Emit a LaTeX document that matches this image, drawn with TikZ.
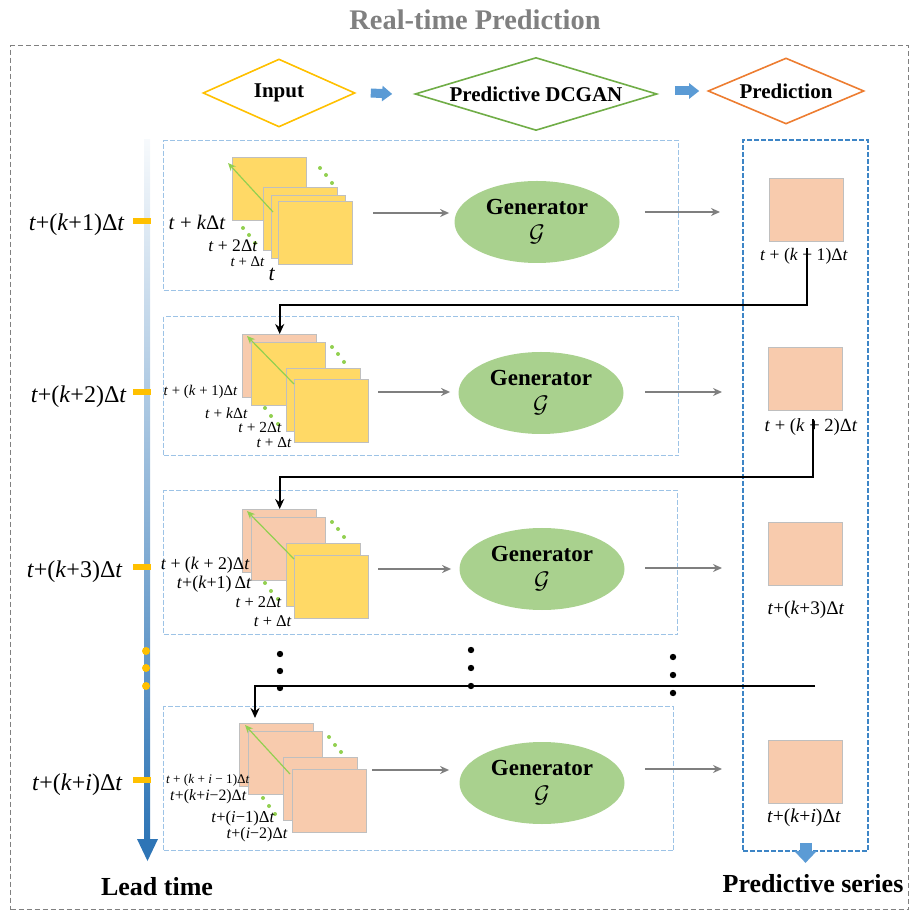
\documentclass[tikz,border=0pt]{standalone}
\usepackage{fontspec}
\setmainfont{Liberation Serif}
\usetikzlibrary{shapes.geometric,arrows.meta,calc}
\definecolor{imgY}{HTML}{FFD966}
\definecolor{imgP}{HTML}{F8CBAD}
\definecolor{frameG}{HTML}{BFBFBF}
\definecolor{genG}{HTML}{A9D18E}
\definecolor{panelB}{HTML}{9DC3E6}
\definecolor{colB}{HTML}{3D85C6}
\definecolor{arrB}{HTML}{5B9BD5}
\definecolor{axisB}{HTML}{2E75B6}
\definecolor{tickO}{HTML}{FFC000}
\definecolor{dotG}{HTML}{92D050}
\definecolor{greyA}{HTML}{7F7F7F}
\definecolor{titleG}{HTML}{808080}
\definecolor{dInput}{HTML}{FFC000}
\definecolor{dGAN}{HTML}{70AD47}
\definecolor{dPred}{HTML}{ED7D31}
\newcommand{\fsz}[1]{\fontsize{#1}{#1}\selectfont}
\newcommand{\iv}[1]{\textit{#1}}
\begin{document}
\begin{tikzpicture}[x=0.5pt,y=-0.5pt,
  fy/.style={draw=frameG, fill=imgY, line width=0.7pt, minimum width=37pt, minimum height=31.5pt, inner sep=0, anchor=north west},
  fp/.style={fy, fill=imgP},
  panel/.style={draw=panelB, dash pattern=on 2.5pt off 1pt, line width=0.7pt, anchor=north west, inner sep=0},
  gen/.style={ellipse, fill=genG, minimum width=82.5pt, minimum height=41pt, inner sep=0, align=center, font=\fontsize{11.5}{13.5}\selectfont\bfseries},
  garrow/.style={greyA, line width=0.8pt, -{Stealth[length=4.5pt,width=4pt]}},
  blk/.style={black, line width=1pt, -{Stealth[length=5pt,width=4.5pt]}},
  grn/.style={dotG, line width=0.6pt, -{Stealth[length=4pt,width=3.5pt]}},
  blockarrow/.style={arrB, line width=4.5pt, -{Triangle[length=5pt,width=7.5pt]}},
  dia/.style={diamond, line width=0.8pt, inner sep=0, font=\fontsize{10.5}{12}\selectfont\bfseries},
  lab/.style={inner sep=0, anchor=east},
  plab/.style={inner sep=0},
  axl/.style={inner sep=0, anchor=east, font=\fsz{12}},
  bigt/.style={inner sep=0, font=\fontsize{13}{15}\selectfont\bfseries}
]
\useasboundingbox (0,0) rectangle (914,913);
% outer frame and title
\node[draw=titleG, dash pattern=on 2.5pt off 1.5pt, line width=0.6pt, minimum width=449pt, minimum height=432pt, inner sep=0, anchor=north west] (outer) at (10,45) {};
\node[inner sep=0, text=titleG, font=\fontsize{14.2}{16}\selectfont\bfseries] (title) at (475,20) {Real-time Prediction};
% header diamonds
\node[dia, draw=dInput, minimum width=76pt, minimum height=34pt, aspect=2.2] (din) at (279,93) {Input};
\node[dia, draw=dGAN, minimum width=121pt, minimum height=36.5pt, aspect=3.3] (dgan) at (536,94) {Predictive DCGAN};
\node[dia, draw=dPred, minimum width=78pt, minimum height=33pt, aspect=2.36] (dpred) at (786,91) {Prediction};
\draw[blockarrow] ([xshift=7.5pt]din.east) -- ([xshift=-11pt]dgan.west);
\draw[blockarrow] ([xshift=8.5pt]dgan.east |- dpred.west) -- ([xshift=-4pt]dpred.west);
% time axis
\shade[top color=axisB!4!white, bottom color=axisB] (144,140) rectangle (150,842);
\fill[axisB] (137,839) -- (158,839) -- (147.5,861) -- cycle;
\foreach \yy in {221,392,567,780} \fill[tickO] (133,\yy-2.8) rectangle (151,\yy+2.8);
\foreach \yy in {651,668,686} \fill[tickO] (146,\yy) circle (2pt);
\node[axl] (a1) at (125,225) {\iv{t}+(\iv{k}+1)Δ\iv{t}};
\node[axl] (a2) at (127,397) {\iv{t}+(\iv{k}+2)Δ\iv{t}};
\node[axl] (a3) at (123,572) {\iv{t}+(\iv{k}+3)Δ\iv{t}};
\node[axl] (a4) at (123,785) {\iv{t}+(\iv{k}+\iv{i})Δ\iv{t}};
\node[bigt] (lead) at (157,887) {Lead time};
\node[bigt] (pser) at (813,884) {Predictive series};
% panels
\node[panel, minimum width=257.5pt, minimum height=75pt] (r1) at (163,140) {};
\node[panel, minimum width=257.5pt, minimum height=69.5pt] (r2) at (163,316) {};
\node[panel, minimum width=257pt, minimum height=72pt] (r3) at (163,490) {};
\node[panel, minimum width=255pt, minimum height=72pt] (r4) at (163,706) {};
\node[draw=colB, dash pattern=on 2.5pt off 1pt, line width=0.9pt, minimum width=62.5pt, minimum height=355.5pt, inner sep=0] (pc) at (805.5,495.5) {};
\draw[arrB, line width=6pt, -{Triangle[length=6pt,width=11pt]}] ([yshift=4.5pt]pc.south) -- ++(0,20);
% row 1 stack
\node[fy] (s1a) at (232,157) {};
\node[fy] (s1b) at (263,187) {};
\node[fy] (s1c) at (271,195) {};
\node[fy] (s1d) at (278,201) {};
\coordinate (ga1) at (273,212); \coordinate (gb1) at (228,163);
\draw[grn] (ga1) -- (gb1);
\foreach \px/\py in {320/168,326/175,332/183,243/228,249/235,255/243} \fill[dotG] (\px,\py) circle (1pt);
\node[lab, font=\fsz{10.3}] (l1a) at (226,222) {\iv{t} + \iv{k}Δ\iv{t}};
\node[lab, font=\fsz{8.8}] (l1b) at (258,246) {\iv{t} + 2Δ\iv{t}};
\node[lab, font=\fsz{7.4}] (l1c) at (265,262) {\iv{t} + Δ\iv{t}};
\node[plab, font=\fsz{11}] (l1d) at (272,274) {\iv{t}};
% row 2 stack
\node[fp] (s2a) at (242,334) {};
\node[fy] (s2b) at (251,342) {};
\node[fy] (s2c) at (286,368) {};
\node[fy] (s2d) at (294,379) {};
\coordinate (ga2) at (294,384); \coordinate (gb2) at (247,336);
\draw[grn] (ga2) -- (gb2);
\foreach \px/\py in {332/347,338/354,344/362,265/408,271/416,278/424} \fill[dotG] (\px,\py) circle (1pt);
\node[lab, font=\fsz{7.4}] (l2a) at (238,392) {\iv{t} + (\iv{k} + 1)Δ\iv{t}};
\node[lab, font=\fsz{7.7}] (l2b) at (248,413) {\iv{t} + \iv{k}Δ\iv{t}};
\node[lab, font=\fsz{7.7}] (l2c) at (282,427) {\iv{t} + 2Δ\iv{t}};
\node[lab, font=\fsz{7.6}] (l2d) at (292,443) {\iv{t} + Δ\iv{t}};
% row 3 stack
\node[fp] (s3a) at (242,509) {};
\node[fp] (s3b) at (251,517) {};
\node[fy] (s3c) at (286,543) {};
\node[fy] (s3d) at (294,555) {};
\coordinate (ga3) at (294,559); \coordinate (gb3) at (247,511);
\draw[grn] (ga3) -- (gb3);
\foreach \px/\py in {332/522,338/529,344/537,265/583,271/591,278/599} \fill[dotG] (\px,\py) circle (1pt);
\node[lab, font=\fsz{8.9}] (l3a) at (250,565) {\iv{t} + (\iv{k} + 2)Δ\iv{t}};
\node[lab, font=\fsz{9}] (l3b) at (252,584) {\iv{t}+(\iv{k}+1)\,Δ\iv{t}};
\node[lab, font=\fsz{8.2}] (l3c) at (282,602) {\iv{t} + 2Δ\iv{t}};
\node[lab, font=\fsz{8.2}] (l3d) at (292,621) {\iv{t} + Δ\iv{t}};
% row 4 stack
\node[fp] (s4a) at (239,723) {};
\node[fp] (s4b) at (248,731) {};
\node[fp] (s4c) at (283,757) {};
\node[fp] (s4d) at (292,769) {};
\coordinate (ga4) at (290,774); \coordinate (gb4) at (245,725);
\draw[grn] (ga4) -- (gb4);
\foreach \px/\py in {329/737,335/745,341/752,263/798,269/806,275/814} \fill[dotG] (\px,\py) circle (1pt);
\node[lab, font=\fsz{6.6}] (l4a) at (250,780) {\iv{t} + (\iv{k} + \iv{i} − 1)Δ\iv{t}};
\node[lab, font=\fsz{7.9}] (l4b) at (247,797) {\iv{t}+(\iv{k}+\iv{i}−2)Δ\iv{t}};
\node[lab, font=\fsz{8.3}] (l4c) at (275,819) {\iv{t}+(\iv{i}−1)Δ\iv{t}};
\node[lab, font=\fsz{8}] (l4d) at (288,835) {\iv{t}+(\iv{i}−2)Δ\iv{t}};
% generators
\node[gen] (g1) at (537,222) {Generator\\$\mathcal{G}$};
\node[gen] (g2) at (541,393) {Generator\\$\mathcal{G}$};
\node[gen] (g3) at (542,569) {Generator\\$\mathcal{G}$};
\node[gen] (g4) at (542,783) {Generator\\$\mathcal{G}$};
\coordinate (i1) at (373,213); \draw[garrow, shorten >=2.5pt] (i1) -- (i1 -| g1.west);
\coordinate (i2) at (378,392); \draw[garrow, shorten >=4pt] (i2) -- (i2 -| g2.west);
\coordinate (i3) at (378,569); \draw[garrow, shorten >=4pt] (i3) -- (i3 -| g3.west);
\coordinate (i4) at (372,770); \draw[garrow, shorten >=5pt] (i4) -- (i4 -| g4.west);
% predictions
\node[fp] (p1) at (769,178) {};
\node[fp] (p2) at (768,347) {};
\node[fp] (p3) at (768,522) {};
\node[fp] (p4) at (768,740) {};
\node[plab, font=\fsz{8.8}] (q1) at (804,256) {\iv{t} + (\iv{k} + 1)Δ\iv{t}};
\node[plab, font=\fsz{9.3}] (q2) at (811,427) {\iv{t} + (\iv{k} + 2)Δ\iv{t}};
\node[plab, font=\fsz{9.6}] (q3) at (806,610) {\iv{t}+(\iv{k}+3)Δ\iv{t}};
\node[plab, font=\fsz{9.8}] (q4) at (804,818) {\iv{t}+(\iv{k}+\iv{i})Δ\iv{t}};
\coordinate (o1) at (720,212); \draw[garrow, shorten <=12.5pt] (g1.east |- o1) -- (o1);
\coordinate (o2) at (722,392); \draw[garrow, shorten <=10.75pt] (g2.east |- o2) -- (o2);
\coordinate (o3) at (722,568); \draw[garrow, shorten <=10.25pt] (g3.east |- o3) -- (o3);
\coordinate (o4) at (722,769); \draw[garrow, shorten <=10.25pt] (g4.east |- o4) -- (o4);
% feedback connectors
\draw[blk] ([yshift=-3pt]p1.south) -- ++(0,57) -| (s2a.north);
\draw[blk] ([xshift=3.5pt,yshift=-4pt]p2.south) -- ++(0,58) -| (s3a.north);
\coordinate (c3) at (815,686);
\draw[blk] (c3) -| ([xshift=8pt,yshift=2.5pt]s4a.north west);
% continuation dots
\foreach \px/\py in {280/654,280/671,280/688,471/650,471/668,471/686,673/657,673/675,673/693} \fill[black] (\px,\py) circle (1.6pt);
\end{tikzpicture}
\end{document}
